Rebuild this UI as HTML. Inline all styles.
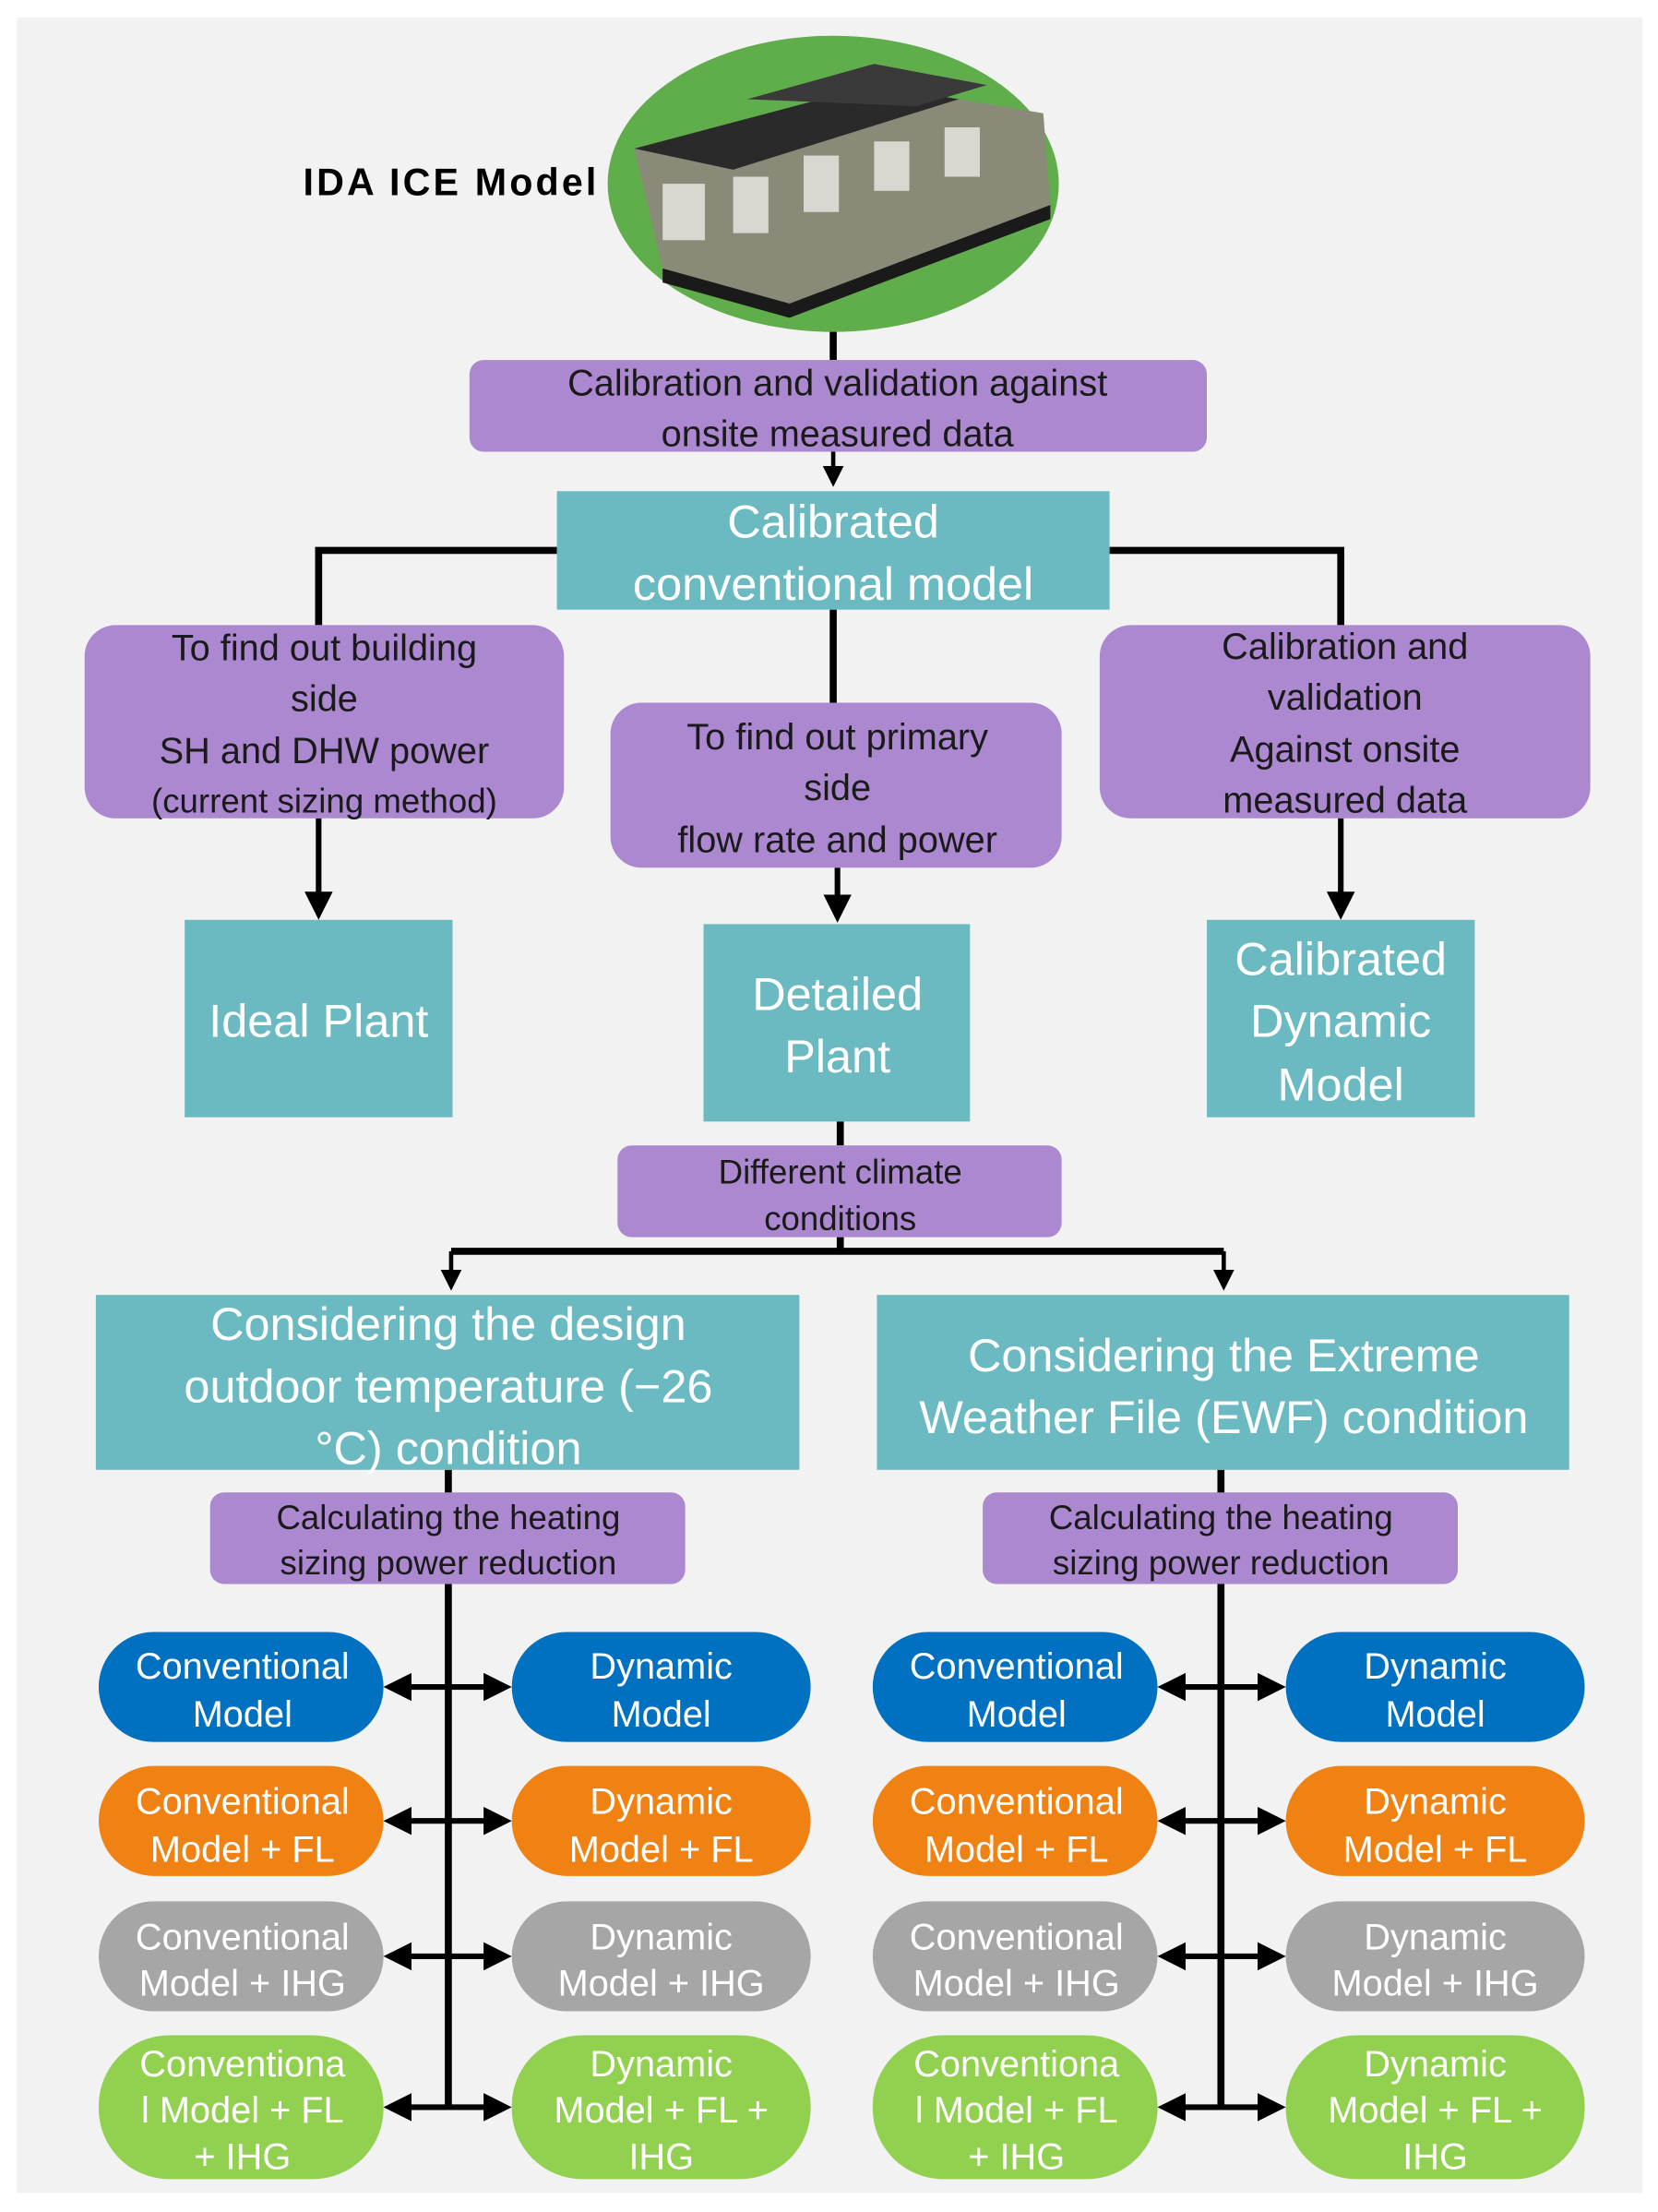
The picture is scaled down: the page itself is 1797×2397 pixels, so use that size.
<!DOCTYPE html>
<html><head><meta charset="utf-8"><style>
html,body{margin:0;padding:0;background:#fff}
svg{display:block}
text{font-family:"Liberation Sans",sans-serif}
</style></head><body>
<svg width="1797" height="2397" viewBox="0 0 1176 1568" xmlns="http://www.w3.org/2000/svg">
<defs>
<marker id="ah" markerWidth="5" markerHeight="5" refX="4" refY="2.5" orient="auto-start-reverse" markerUnits="strokeWidth">
<path d="M0,0 L5,2.5 L0,5 Z" fill="#000"/></marker>
</defs>
<rect x="0" y="0" width="1176" height="1568" fill="#fff"/>
<rect x="12" y="12" width="1153" height="1543" fill="#f2f2f2"/>

<!-- model ellipse -->
<ellipse cx="591" cy="130" rx="160" ry="105" fill="#60ad4c"/>
<polygon points="450,105 620,60 740,80 745,145 560,215 470,190" fill="#8a8a78"/>
<polygon points="450,105 620,60 680,70 520,120" fill="#2a2a2a"/>
<polygon points="530,70 620,45 700,60 650,75" fill="#3a3a3a"/>
<polygon points="470,190 560,215 745,145 745,155 560,225 470,200" fill="#1a1a1a"/>
<g fill="#d8d8d0">
<rect x="470" y="130" width="30" height="40"/><rect x="520" y="125" width="25" height="40"/>
<rect x="570" y="110" width="25" height="40"/><rect x="620" y="100" width="25" height="35"/>
<rect x="670" y="90" width="25" height="35"/>
</g>
<text x="215" y="138" font-size="27" font-weight="bold" fill="#000" textLength="208">IDA ICE Model</text>

<g stroke="#000" stroke-width="5" fill="none">
<line x1="591" y1="235" x2="591" y2="255"/>
<line x1="591" y1="320" x2="591" y2="342" marker-end="url(#ah)" stroke-width="3"/>
<polyline points="395,390 226,390 226,443"/>
<polyline points="787,390 951,390 951,443"/>
<line x1="591" y1="432" x2="591" y2="498"/>
<line x1="226" y1="580" x2="226" y2="648" stroke-width="4" marker-end="url(#ah)"/>
<line x1="594" y1="615" x2="594" y2="650" stroke-width="4" marker-end="url(#ah)"/>
<line x1="951" y1="580" x2="951" y2="648" stroke-width="4" marker-end="url(#ah)"/>
<line x1="596" y1="795" x2="596" y2="812"/>
<line x1="596" y1="877" x2="596" y2="887"/>
<line x1="320" y1="887" x2="868" y2="887"/>
<line x1="320" y1="887" x2="320" y2="912" stroke-width="3" marker-end="url(#ah)"/>
<line x1="868" y1="887" x2="868" y2="912" stroke-width="3" marker-end="url(#ah)"/>
<line x1="318" y1="1042" x2="318" y2="1495"/>
<line x1="866" y1="1042" x2="866" y2="1495"/>
</g>

<!-- purple boxes -->
<g fill="#ab88cf">
<rect x="333" y="255" width="523" height="65" rx="10"/>
<rect x="60" y="443" width="340" height="137" rx="22"/>
<rect x="433" y="498" width="320" height="117" rx="22"/>
<rect x="780" y="443" width="348" height="137" rx="22"/>
<rect x="438" y="812" width="315" height="65" rx="10"/>
<rect x="149" y="1058" width="337" height="65" rx="10"/>
<rect x="697" y="1058" width="337" height="65" rx="10"/>
</g>
<g font-size="26" fill="#1a1a1a" text-anchor="middle">
<text x="594" y="280">Calibration and validation against</text>
<text x="594" y="316">onsite measured data</text>
<text x="230" y="468">To find out building</text>
<text x="230" y="504">side</text>
<text x="230" y="541">SH and DHW power</text>
<text x="230" y="576" font-size="24">(current sizing method)</text>
<text x="594" y="531">To find out primary</text>
<text x="594" y="567">side</text>
<text x="594" y="604">flow rate and power</text>
<text x="954" y="467">Calibration and</text>
<text x="954" y="503">validation</text>
<text x="954" y="540">Against onsite</text>
<text x="954" y="576">measured data</text>
<text x="596" y="839" font-size="24">Different climate</text>
<text x="596" y="872" font-size="24">conditions</text>
<text x="318" y="1084" font-size="24">Calculating the heating</text>
<text x="318" y="1116" font-size="24">sizing power reduction</text>
<text x="866" y="1084" font-size="24">Calculating the heating</text>
<text x="866" y="1116" font-size="24">sizing power reduction</text>
</g>

<!-- teal boxes -->
<g fill="#6bbac1">
<rect x="395" y="348" width="392" height="84"/>
<rect x="131" y="652" width="190" height="140"/>
<rect x="499" y="655" width="189" height="140"/>
<rect x="856" y="652" width="190" height="140"/>
<rect x="68" y="918" width="499" height="124"/>
<rect x="622" y="918" width="491" height="124"/>
</g>
<g font-size="33" fill="#fff" text-anchor="middle">
<text x="591" y="381">Calibrated</text>
<text x="591" y="425">conventional model</text>
<text x="226" y="735">Ideal Plant</text>
<text x="594" y="716">Detailed</text>
<text x="594" y="760">Plant</text>
<text x="951" y="691">Calibrated</text>
<text x="951" y="735">Dynamic</text>
<text x="951" y="780">Model</text>
<text x="318" y="950">Considering the design</text>
<text x="318" y="994">outdoor temperature (−26</text>
<text x="318" y="1038">°C)  condition</text>
<text x="868" y="972">Considering the Extreme</text>
<text x="868" y="1016">Weather File (EWF) condition</text>
</g>

<!-- pills -->
<g id="pillsL">
<rect x="70" y="1157" width="202" height="78" rx="39" fill="#0070c0"/>
<rect x="363" y="1157" width="212" height="78" rx="39" fill="#0070c0"/>
<rect x="70" y="1252" width="202" height="78" rx="39" fill="#f08214"/>
<rect x="363" y="1252" width="212" height="78" rx="39" fill="#f08214"/>
<rect x="70" y="1348" width="202" height="78" rx="39" fill="#a6a6a6"/>
<rect x="363" y="1348" width="212" height="78" rx="39" fill="#a6a6a6"/>
<rect x="70" y="1443" width="202" height="102" rx="50" fill="#92d050"/>
<rect x="363" y="1443" width="212" height="102" rx="50" fill="#92d050"/>
<g stroke="#000" stroke-width="4">
<line x1="276" y1="1196" x2="359" y2="1196" marker-start="url(#ah)" marker-end="url(#ah)"/>
<line x1="276" y1="1291" x2="359" y2="1291" marker-start="url(#ah)" marker-end="url(#ah)"/>
<line x1="276" y1="1387" x2="359" y2="1387" marker-start="url(#ah)" marker-end="url(#ah)"/>
<line x1="276" y1="1494" x2="359" y2="1494" marker-start="url(#ah)" marker-end="url(#ah)"/>
</g>
<g font-size="26" fill="#fff" text-anchor="middle">
<text x="172" y="1190">Conventional</text><text x="172" y="1224">Model</text>
<text x="469" y="1190">Dynamic</text><text x="469" y="1224">Model</text>
<text x="172" y="1286">Conventional</text><text x="172" y="1320">Model + FL</text>
<text x="469" y="1286">Dynamic</text><text x="469" y="1320">Model + FL</text>
<text x="172" y="1382">Conventional</text><text x="172" y="1415">Model + IHG</text>
<text x="469" y="1382">Dynamic</text><text x="469" y="1415">Model + IHG</text>
<text x="172" y="1472">Conventiona</text><text x="172" y="1505">l Model + FL</text><text x="172" y="1538">+ IHG</text>
<text x="469" y="1472">Dynamic</text><text x="469" y="1505">Model + FL +</text><text x="469" y="1538">IHG</text>
</g>
</g>
<use href="#pillsL" x="549"/>
</svg>
</body></html>
